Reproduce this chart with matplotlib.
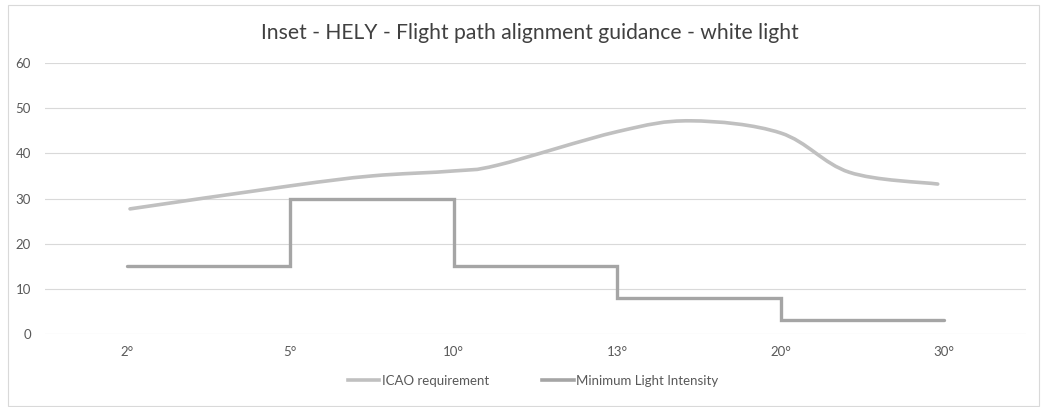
import matplotlib
matplotlib.use("Agg")
import matplotlib.pyplot as plt
import numpy as np
from matplotlib.path import Path
from matplotlib.patches import PathPatch, Rectangle
from matplotlib.lines import Line2D

plt.rcParams['font.family'] = ['Lato', 'DejaVu Sans']

categories = ["2°", "5°", "10°", "13°", "20°", "30°"]
min_intensity = [15, 30, 15, 8, 3, 3]
# ICAO requirement curve, read at category-axis positions
icao_x = [0.02, 1.0, 1.5, 2.0, 2.27, 3.0, 3.45, 4.0, 4.42, 4.96]
icao_y = [27.7, 32.8, 35.0, 36.1, 37.4, 44.8, 47.2, 44.5, 35.8, 33.2]
yticks = [0, 10, 20, 30, 40, 50, 60]

W, H = 1042, 407
fig = plt.figure(figsize=(W / 100, H / 100), dpi=100)
fig.patches.append(Rectangle((8 / W, 1 / H), 1031 / W, 1 - 6 / H, transform=fig.transFigure,
                             fill=False, edgecolor="#D9D9D9", linewidth=0.8))
ax = fig.add_axes([45 / W, 1 - 334 / H, (1026 - 45) / W, (334 - 63) / H])
ax.set_xlim(-0.5, len(categories) - 0.5)
ax.set_ylim(0, 60)
ax.set_yticks(yticks)
ax.set_xticks(range(len(categories)))
ax.set_xticklabels(categories)
for s in ax.spines.values():
    s.set_visible(False)
ax.grid(axis="y", color="#D9D9D9", linewidth=0.8)
ax.set_axisbelow(True)
ax.tick_params(length=0, labelsize=9.5, colors="#595959", pad=9)
ax.tick_params(axis="y", pad=10)

# smooth curve through the read points (Catmull-Rom as cubic Bezier segments)
pts = np.column_stack([icao_x, icao_y])
verts = [tuple(pts[0])]
codes = [Path.MOVETO]
n = len(pts)
for i in range(n - 1):
    p0 = pts[i - 1] if i > 0 else pts[i]
    p1 = pts[i]
    p2 = pts[i + 1]
    p3 = pts[i + 2] if i + 2 < n else pts[i + 1]
    c1 = p1 + (p2 - p0) / 6.0
    c2 = p2 - (p3 - p1) / 6.0
    verts += [tuple(c1), tuple(c2), tuple(p2)]
    codes += [Path.CURVE4] * 3
icao_color = "#C0C0C0"
ax.add_patch(PathPatch(Path(verts, codes), fill=False, edgecolor=icao_color,
                       linewidth=2.6, capstyle="round", joinstyle="round"))

step_color = "#A5A5A5"
ax.step(range(len(categories)), min_intensity, where="post", color=step_color,
        linewidth=2.4, solid_capstyle="round", solid_joinstyle="miter")

fig.text(530 / W, 1 - 33 / H, "Inset - HELY - Flight path alignment guidance - white light",
         ha="center", va="center", fontsize=15.2, color="#404040")

handles = [Line2D([], [], color=icao_color, linewidth=2.6),
           Line2D([], [], color=step_color, linewidth=2.6)]
fig.legend(handles, ["ICAO requirement", "Minimum Light Intensity"], loc="center",
           bbox_to_anchor=(533 / W, 1 - 381 / H), ncol=2, frameon=False,
           fontsize=9.5, labelcolor="#595959", handlelength=2.4, handletextpad=0.2,
           columnspacing=4.0)

fig.savefig("out.png", dpi=100)
